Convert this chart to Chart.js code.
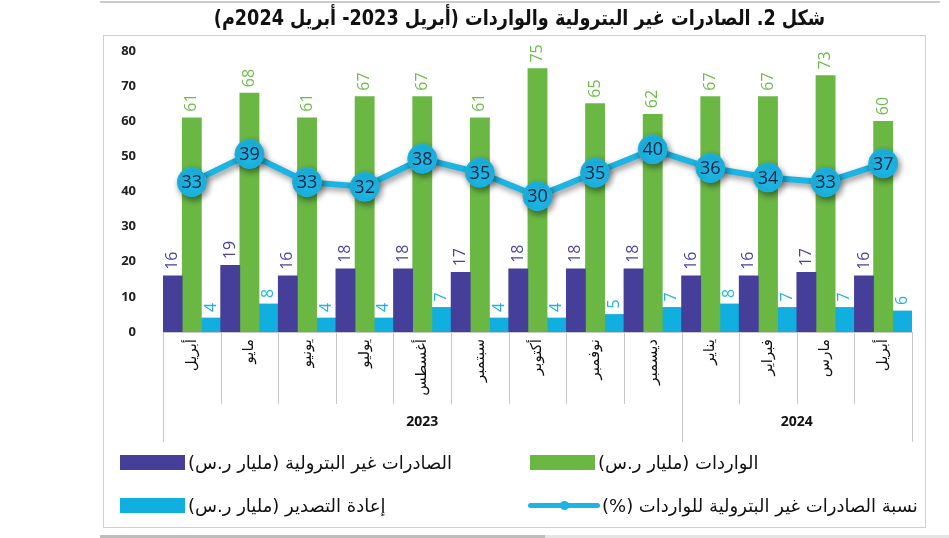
<!DOCTYPE html>
<html><head><meta charset="utf-8">
<script src="https://cdn.jsdelivr.net/npm/chart.js@4.4.1/dist/chart.umd.min.js"></script>
<style>
html,body{margin:0;padding:0;background:#fff;width:949px;height:538px;overflow:hidden;position:relative;font-family:'DejaVu Sans','Noto Sans',sans-serif;}
#topline{position:absolute;left:100px;top:1px;width:840px;height:2px;background:#cacaca;}
#title{position:absolute;left:100px;width:840px;top:5px;text-align:center;font-weight:bold;font-size:21px;line-height:26px;direction:rtl;color:#111;transform:scaleX(0.84);transform-origin:417px 0;}
#frame{position:absolute;left:103px;top:35px;width:821px;height:491px;border:1px solid #cfcfcf;}
#c{position:absolute;left:0;top:0;}
.leg{position:absolute;display:flex;align-items:center;font-size:18px;color:#111;height:22px;}
.box{width:65px;height:15px;margin-right:3px;flex:none;}
.lsym{width:72px;height:15px;position:relative;margin-right:2px;flex:none;}
.lsym .ln{position:absolute;left:0;right:0;top:5px;height:5px;border-radius:3px;background:#1cb4e2;}
.lsym .dt{position:absolute;left:32px;top:3px;width:9px;height:9px;border-radius:50%;background:#1cb4e2;}
#botA{position:absolute;left:100px;top:535px;width:445px;height:3px;background:#bdbdbd;}
#botB{position:absolute;left:545px;top:535px;width:404px;height:3px;background:#e4e4e4;}
</style></head>
<body>
<div id="topline"></div>
<div id="frame"></div>
<canvas id="c" width="949" height="538"></canvas>
<div id="title">شكل 2. الصادرات غير البترولية والواردات (أبريل 2023- أبريل 2024م)</div>
<div id="legend"></div>
<div id="botA"></div><div id="botB"></div>
<script>
const months = ['أبريل','مايو','يونيو','يوليو','أغسطس','سبتمبر','أكتوبر','نوفمبر','ديسمبر','يناير','فبراير','مارس','أبريل'];
const years = ['2023','2024'];
const yearSpans = [9,4];
const nonOilExports = [16,19,16,18,18,17,18,18,18,16,16,17,16];
const imports = [61,68,61,67,67,61,75,65,62,67,67,73,60];
const reExports = [4,8,4,4,7,4,4,5,7,8,7,7,6];
const ratio = [33,39,33,32,38,35,30,35,40,36,34,33,37];
const seriesNames = ['الصادرات غير البترولية (مليار ر.س)','الواردات (مليار ر.س)','إعادة التصدير (مليار ر.س)','نسبة الصادرات غير البترولية للواردات (%)'];
const yMin = 0, yMax = 80, yStep = 10;

const C_PURPLE = '#463f9a', C_GREEN = '#6ab744', C_CYAN = '#10afdf', C_LINE = '#1cb4e2';

const decoPlugin = {
  id: 'deco',
  beforeDatasetDraw(chart, args) {
    const ds = chart.data.datasets[args.index];
    if (ds.type === 'line') {
      const ctx = chart.ctx;
      ctx.save();
      ctx.shadowColor = 'rgba(0,0,0,0.45)';
      ctx.shadowBlur = 6;
      ctx.shadowOffsetX = 2;
      ctx.shadowOffsetY = 3;
    }
  },
  afterDatasetDraw(chart, args) {
    const ds = chart.data.datasets[args.index];
    const ctx = chart.ctx;
    if (ds.type === 'line') { ctx.restore(); return; }
    ctx.save();
    ctx.fillStyle = ds.labelColor;
    ctx.font = '16px "Open Sans"';
    ctx.textAlign = 'left';
    ctx.textBaseline = 'middle';
    args.meta.data.forEach((el, i) => {
      ctx.save();
      ctx.translate(el.x, el.y - 6);
      ctx.rotate(-Math.PI / 2);
      ctx.fillText(String(ds.data[i]), 0, 0);
      ctx.restore();
    });
    ctx.restore();
  },
  afterDatasetsDraw(chart) {
    const ctx = chart.ctx;
    const li = chart.data.datasets.findIndex(d => d.type === 'line');
    const lmeta = chart.getDatasetMeta(li);
    ctx.save();
    ctx.fillStyle = '#0e2340';
    ctx.font = '18px "Open Sans"';
    ctx.textAlign = 'center';
    ctx.textBaseline = 'middle';
    lmeta.data.forEach((el, i) => {
      ctx.fillText(String(chart.data.datasets[li].data[i]), el.x, el.y + 1);
    });
    ctx.restore();
    const xs = chart.scales.x;
    const n = months.length;
    const half = (xs.getPixelForValue(1) - xs.getPixelForValue(0)) / 2;
    const y0 = chart.chartArea.bottom;
    const bx = i => (i < n ? xs.getPixelForValue(i) - half : xs.getPixelForValue(n - 1) + half);
    const groupB = [0];
    yearSpans.reduce((a, s) => { groupB.push(a + s); return a + s; }, 0);
    ctx.save();
    ctx.strokeStyle = '#c9c9c9';
    ctx.lineWidth = 1;
    ctx.beginPath();
    ctx.moveTo(bx(0), y0 + 0.5); ctx.lineTo(bx(n), y0 + 0.5);
    for (let i = 0; i <= n; i++) {
      const x = Math.round(bx(i)) + 0.5;
      ctx.moveTo(x, y0);
      ctx.lineTo(x, y0 + (groupB.includes(i) ? 110 : 72));
    }
    ctx.stroke();
    ctx.fillStyle = '#111';
    ctx.font = 'bold 14px "Open Sans"';
    ctx.textAlign = 'center';
    ctx.textBaseline = 'middle';
    years.forEach((yr, k) => {
      const xc = (bx(groupB[k]) + bx(groupB[k + 1])) / 2;
      ctx.fillText(yr, xc, y0 + 90);
    });
    ctx.restore();
  }
};

new Chart(document.getElementById('c'), {
  data: {
    labels: months,
    datasets: [
      { type: 'line', label: seriesNames[3], data: ratio, yAxisID: 'y1', order: 0,
        borderColor: C_LINE, borderWidth: 6, backgroundColor: C_LINE,
        pointRadius: 14.5, pointBackgroundColor: C_LINE, pointBorderColor: C_LINE, pointBorderWidth: 1,
        tension: 0, fill: false },
      { type: 'bar', label: seriesNames[0], data: nonOilExports, yAxisID: 'y', order: 1,
        backgroundColor: C_PURPLE, labelColor: '#4a429c', barPercentage: 1, categoryPercentage: 1 },
      { type: 'bar', label: seriesNames[1], data: imports, yAxisID: 'y', order: 2,
        backgroundColor: C_GREEN, labelColor: '#6cbd48', barPercentage: 1, categoryPercentage: 1 },
      { type: 'bar', label: seriesNames[2], data: reExports, yAxisID: 'y', order: 3,
        backgroundColor: C_CYAN, labelColor: '#22b2e0', barPercentage: 1, categoryPercentage: 1 }
    ]
  },
  options: {
    responsive: false,
    animation: false,
    layout: { padding: { left: 103, right: 37, top: 51, bottom: 94 } },
    plugins: { legend: { display: false }, tooltip: { enabled: false } },
    scales: {
      x: {
        offset: true,
        grid: { display: false, drawTicks: false },
        border: { display: false },
        ticks: { autoSkip: false, minRotation: 90, maxRotation: 90, padding: 7, color: '#111',
                 font: { family: 'DejaVu Sans', size: 15 } },
        afterFit(s) { s.height = 112; }
      },
      y: {
        min: yMin, max: yMax,
        grid: { display: false, drawTicks: false },
        border: { display: false },
        ticks: { stepSize: yStep, padding: 27, color: '#222', font: { family: 'Open Sans', size: 13, weight: 'bold' } },
        afterFit(s) { s.width = 60; }
      },
      y1: { display: false, min: 1, max: 61 }
    }
  },
  plugins: [decoPlugin]
});

const legendItems = [
  { name: seriesNames[0], color: C_PURPLE, left: 120, top: 451, kind: 'box' },
  { name: seriesNames[1], color: C_GREEN, left: 530, top: 451, kind: 'box' },
  { name: seriesNames[2], color: C_CYAN, left: 120, top: 494, kind: 'box' },
  { name: seriesNames[3], color: C_LINE, left: 528, top: 494, kind: 'line' }
];
const lg = document.getElementById('legend');
legendItems.forEach(it => {
  const d = document.createElement('div');
  d.className = 'leg';
  d.style.left = it.left + 'px';
  d.style.top = it.top + 'px';
  if (it.kind === 'box') {
    d.innerHTML = '<span class="box" style="background:' + it.color + '"></span>';
  } else {
    d.innerHTML = '<span class="lsym"><span class="ln"></span><span class="dt"></span></span>';
  }
  const t = document.createElement('span');
  t.dir = 'rtl';
  t.textContent = it.name;
  d.appendChild(t);
  lg.appendChild(d);
});
</script>
</body></html>
